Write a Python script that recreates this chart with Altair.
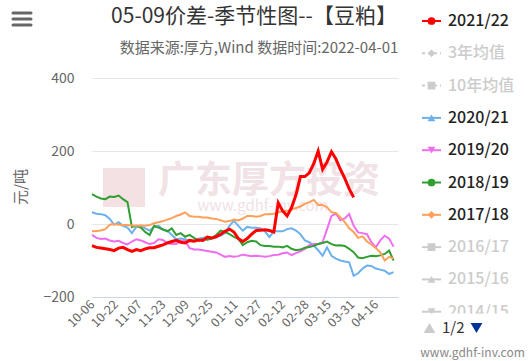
import altair as alt
import pandas as pd

# ---------------- data ----------------
start_date = "2021-10-06"
step = "3D"

s2122 = [-59, -64, -66, -68, -70, -73, -66, -64, -70, -75,
         -70, -73, -68, -65, -65, -61, -57, -52, -48, -45,
         -50, -52, -45, -47, -44, -45, -36, -38, -35, -28,
         -20, -14, -22, -40, -48, -40, -28, -18, -17, -16,
         -18, -22, 58, 36, 22, 45, 80, 130, 130, 140,
         165, 200, 150, 170, 198, 178, 150, 125, 96, 73]
s2021 = [32, 28, 27, 24, 14, -2, 5, -5, -10, -25,
         -8, -5, -12, -18, -8, -5, -15, -18, -30, -42,
         -40, -42, -45, -45, -40, -38, -36, -40, -33, -32,
         -25, -5, 9, -5, -18, -8, -10, -10, -12, -20,
         -36, -20, -20, -20, -14, -12, -18, -28, -45, -50,
         -59, -72, -87, -64, -87, -95, -100, -103, -105, -142,
         -135, -122, -114, -115, -122, -125, -128, -137, -132]
s1920 = [-30, -38, -41, -40, -45, -48, -46, -52, -56, -48,
         -42, -45, -50, -55, -52, -42, -44, -52, -55, -55,
         -46, -46, -66, -70, -70, -72, -74, -76, -78, -84,
         -90, -88, -90, -88, -84, -86, -88, -87, -88, -90,
         -88, -85, -84, -80, -78, -85, -80, -75, -68, -58,
         -55, -55, -50, -14, 22, 28, 10, 15, 27, -5,
         -23, -25, -28, -50, -64, -45, -32, -40, -62]
s1819 = [82, 75, 70, 68, 75, 74, 78, 68, 60, -8,
         -5, -10, -22, -30, -5, -10, -15, -20, -12, -30,
         -25, -35, -30, -38, -45, -42, -43, -40, -30, -18,
         -22, -28, -35, -41, -58, -50, -46, -48, -58, -60,
         -60, -62, -62, -64, -60, -68, -72, -70, -65, -63,
         -60, -55, -52, -48, -55, -59, -58, -60, -68, -77,
         -92, -94, -90, -87, -88, -86, -82, -73, -100]
s1718 = [-20, -19, -18, -14, -2, 0, -2, -3, -3, -4,
         -5, -4, -5, -3, 2, 5, 8, 12, 16, 22,
         26, 32, 22, 20, 20, 18, 18, 15, 14, 10,
         6, 8, 12, 10, 15, 22, 22, 20, 22, 27,
         27, 28, 32, 34, 36, 40, 44, 48, 55, 60,
         66, 52, 52, 46, 32, 30, 18, 5, -12, -22,
         -38, -34, -48, -56, -66, -78, -100, -90, -95]

series_names = ["2021/22", "2020/21", "2019/20", "2018/19", "2017/18"]
series_values = [s2122, s2021, s1920, s1819, s1718]
series_colors = ["#ff0000", "#6cb0ec", "#ee6eee", "#2f9f2f", "#ffa05a"]

tick_labels = ["10-06", "10-22", "11-07", "11-23", "12-09", "12-25", "01-11",
               "01-27", "02-12", "02-28", "03-15", "03-31", "04-16"]
y_ticks = [-200, 0, 200, 400]

legend_names = ["2021/22", "3年均值", "10年均值", "2020/21", "2019/20",
                "2018/19", "2017/18", "2016/17", "2015/16", "2014/15"]
legend_colors = ["#ff0000", "#cccccc", "#cccccc", "#6cb0ec", "#ee6eee",
                 "#2f9f2f", "#ffa05a", "#cccccc", "#cccccc", "#cccccc"]
legend_text_colors = ["#222222", "#cccccc", "#cccccc", "#222222", "#222222",
                      "#222222", "#222222", "#cccccc", "#cccccc", "#cccccc"]
legend_shapes = ["circle", "diamond", "square", "triangle-up", "triangle-down",
                 "circle", "diamond", "square", "triangle-up", "triangle-down"]
legend_dashed = [False, True, True, False, False, False, False, False, False, False]

FONT = "Noto Sans CJK SC"

# ---------------- tables ----------------
rows = []
for name, vals in zip(series_names, series_values):
    dates = pd.date_range(start_date, periods=len(vals), freq=step).strftime("%Y-%m-%dT00:00:00")
    for d, v in zip(dates, vals):
        rows.append({"season": name, "date": d, "value": v})
df = pd.DataFrame(rows)
df_red = df[df.season == "2021/22"]
df_other = df[df.season != "2021/22"]


def to_dt(lbl):
    m, d = int(lbl[:2]), int(lbl[3:])
    return alt.DateTime(year=2021 if m >= 10 else 2022, month=m, date=d)


tick_dates = [to_dt(t) for t in tick_labels]
x_domain = [alt.DateTime(year=2021, month=10, date=6), alt.DateTime(year=2022, month=5, date=1)]

x_enc = alt.X("date:T", scale=alt.Scale(domain=x_domain),
              axis=alt.Axis(values=tick_dates, format="%m-%d", labelAngle=-45,
                            labelAlign="right", labelBaseline="middle", labelPadding=5,
                            labelOverlap=False, labelBound=False, labelFlush=False,
                            ticks=False, grid=False, domainColor="#ccd6eb",
                            labelColor="#666666", labelFontSize=12.5, labelFont=FONT,
                            title=None))
y_enc = alt.Y("value:Q", scale=alt.Scale(domain=[-200, 400], nice=False),
              axis=alt.Axis(values=y_ticks, grid=True, gridColor="#e6e6e6", domain=False,
                            ticks=False, labelPadding=18, labelColor="#666666",
                            labelFontSize=14, labelFont=FONT, title=None))
color_enc = alt.Color("season:N", scale=alt.Scale(domain=series_names, range=series_colors),
                      legend=None)

lines_other = alt.Chart(df_other).mark_line(strokeWidth=2).encode(x=x_enc, y=y_enc, color=color_enc)
lines_red = alt.Chart(df_red).mark_line(strokeWidth=3).encode(x=x_enc, y=y_enc, color=color_enc)


def label(text, x, y, size, color, weight="normal", align="center", angle=0):
    return alt.Chart(pd.DataFrame({"t": [text]})).mark_text(
        align=align, baseline="middle", fontSize=size, color=color,
        fontWeight=weight, font=FONT, angle=angle).encode(
        x=alt.value(x), y=alt.value(y), text="t:N")


# watermark
wm_box = alt.Chart(pd.DataFrame({"a": [0]})).mark_rect(color="#f3e1e4").encode(
    x=alt.value(11), x2=alt.value(53), y=alt.value(90), y2=alt.value(129))
wm_text = label("广东厚方投资", 177, 104, 37, "#f1e2e6", weight="bold")
wm_url = label("www.gdhf-inv.com", 171, 128, 15, "#f0e2e6")

# titles
title = label("05-09价差-季节性图--【豆粕】", 162, -61, 21, "#333333")
subtitle = label("数据来源:厚方,Wind 数据时间:2022-04-01", 167, -30, 15, "#666666")
ytitle = label("元/吨", -71, 109, 15, "#666666", angle=270)

# hamburger
ham = alt.Chart(pd.DataFrame({"py": [-65, -59, -53]})).mark_rule(
    color="#666666", strokeWidth=3, strokeCap="round").encode(
    x=alt.value(-79), x2=alt.value(-61), y=alt.Y("py:Q", scale=None, axis=None))

# legend
leg = pd.DataFrame({"name": legend_names, "color": legend_colors, "tcolor": legend_text_colors,
                    "shape": legend_shapes, "dashed": legend_dashed})
leg["py"] = [-57 + i * 32.3 for i in range(len(leg))]
leg_solid = alt.Chart(leg[~leg.dashed]).mark_rule(strokeWidth=2).encode(
    x=alt.value(330), x2=alt.value(349), y=alt.Y("py:Q", scale=None, axis=None),
    color=alt.Color("color:N", scale=None))
leg_dash = alt.Chart(leg[leg.dashed]).mark_rule(strokeWidth=2, strokeDash=[3, 3]).encode(
    x=alt.value(330), x2=alt.value(349), y=alt.Y("py:Q", scale=None, axis=None),
    color=alt.Color("color:N", scale=None))
leg_pts = alt.Chart(leg).mark_point(filled=True, size=60, opacity=1).encode(
    x=alt.value(339.5), y=alt.Y("py:Q", scale=None, axis=None),
    color=alt.Color("color:N", scale=None), shape=alt.Shape("shape:N", scale=None))
leg_txt = alt.Chart(leg).mark_text(align="left", baseline="middle", fontSize=16,
                                   fontWeight=500, font=FONT).encode(
    x=alt.value(356), y=alt.Y("py:Q", scale=None, axis=None), text="name:N",
    color=alt.Color("tcolor:N", scale=None))
leg_clip = alt.Chart(pd.DataFrame({"a": [0]})).mark_rect(color="white").encode(
    x=alt.value(323), x2=alt.value(439), y=alt.value(235.5), y2=alt.value(244))

nav_up = alt.Chart(pd.DataFrame({"a": [0]})).mark_point(
    shape="triangle-up", filled=True, size=140, color="#cccccc", opacity=1).encode(
    x=alt.value(337.5), y=alt.value(250))
nav_dn = alt.Chart(pd.DataFrame({"a": [0]})).mark_point(
    shape="triangle-down", filled=True, size=140, color="#003399", opacity=1).encode(
    x=alt.value(384.5), y=alt.value(250))
nav_txt = label("1/2", 350, 250, 15, "#333333", align="left")
footer = label("www.gdhf-inv.com", 380.5, 275, 12, "#888888")

chart = alt.layer(
    wm_box, wm_text, wm_url,
    lines_other, lines_red,
    title, subtitle, ytitle, ham,
    leg_solid, leg_dash, leg_pts, leg_txt, leg_clip,
    nav_up, nav_dn, nav_txt, footer,
).properties(
    width=306, height=219,
    autosize=alt.AutoSizeParams(type="none"),
    padding={"left": 92, "top": 78, "right": 133, "bottom": 64},
    background="white",
).configure_view(stroke=None)

chart.save("out.html", embed_options={"renderer": "svg", "actions": False})
